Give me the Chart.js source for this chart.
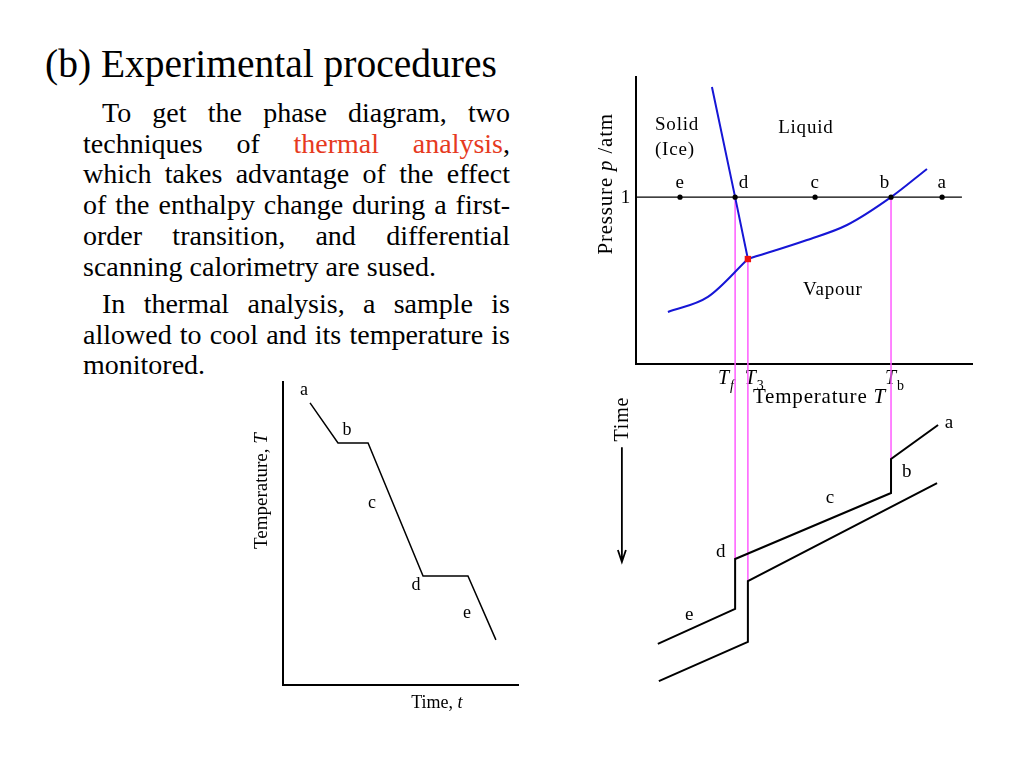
<!DOCTYPE html>
<html>
<head>
<meta charset="utf-8">
<script src="https://cdn.jsdelivr.net/npm/chart.js@4.4.0/dist/chart.umd.min.js"></script>
<style>
  body { margin: 0; width: 1024px; height: 768px; background: #fff; position: relative; overflow: hidden;
         font-family: "Liberation Serif", "Times New Roman", serif; color: #000; }
  h1 { position: absolute; left: 45px; top: 45px; margin: 0; font-weight: normal; font-size: 39.5px; line-height: 39px; white-space: nowrap; }
  .para { position: absolute; left: 83px; width: 427px; font-size: 28px; line-height: 30.7px; }
  .para div { white-space: nowrap; }
  .para .j { text-align: justify; text-align-last: justify; }
  .red { color: #e63a1e; }
  canvas { position: absolute; }
</style>
</head>
<body>

<h1>(b) Experimental procedures</h1>
<div class="para" style="top:98px">
  <div class="j" style="padding-left:19px">To get the phase diagram, two</div>
  <div class="j">techniques of <span class="red">thermal analysis</span>,</div>
  <div class="j">which takes advantage of the effect</div>
  <div class="j">of the enthalpy change during a first-</div>
  <div class="j">order transition, and differential</div>
  <div>scanning calorimetry are sused.</div>
</div>
<div class="para" style="top:289px">
  <div class="j" style="padding-left:19px">In thermal analysis, a sample is</div>
  <div class="j">allowed to cool and its temperature is</div>
  <div>monitored.</div>
</div>

<canvas id="coolChart" width="300" height="350" style="left:230px;top:370px"></canvas>
<canvas id="phaseChart" width="420" height="370" style="left:580px;top:60px"></canvas>
<canvas id="timeChart" width="420" height="340" style="left:580px;top:364px"></canvas>

<script>
// ---- left: cooling curve, temperature against time
const curveTime = [1.15, 2.34, 3.62, 5.96, 7.87, 9.06];
const curveTemp = [9.31, 7.99, 7.99, 3.60, 3.60, 1.49];
const stageNames = ['a', 'b', 'c', 'd', 'e'];
const stageTime = [0.89, 2.72, 3.79, 5.66, 7.83];
const stageTemp = [9.57, 8.25, 5.84, 3.14, 2.21];

// ---- right top: phase diagram (temperature 0-100, pressure in atm)
const fusionT = [22.6, 29.5, 33.3];
const fusionP = [1.66, 1.0, 0.629];
const sublimT = [9.5, 21.4, 33.3];
const sublimP = [0.312, 0.402, 0.629];
const vapT = [33.3, 50.9, 62.8, 75.9, 86.6];
const vapP = [0.629, 0.743, 0.833, 1.0, 1.169];
const isobarT = [0, 97];
const isobarP = [1, 1];
const sampleNames = ['e', 'd', 'c', 'b', 'a'];
const sampleT = [13.1, 29.5, 53.3, 75.9, 91.1];
const sampleLabelT = [13.1, 32.1, 53.3, 74.1, 91.1];
const phaseNames = ['Solid', '(Ice)', 'Liquid', 'Vapour'];
const phaseLabelT = [5.65, 5.65, 42.3, 49.7];
const phaseLabelP = [1.402, 1.253, 1.384, 0.414];
const tripleT = 33.3, tripleP = 0.629;
const Tf = 29.5, T3 = 33.3, Tb = 75.9;
const markT = [Tf, T3, Tb];
const markP = [1.0, tripleP, 1.0];
const tickLabelT = [24.4, 32.4, 74.1];

// ---- right bottom: cooling traces, time runs downward
const upperT = [89.9, 75.9, 75.9, 29.5, 29.5, 6.5];
const upperTime = [1.85, 2.88, 3.91, 5.91, 7.42, 8.48];
const lowerT = [89.6, 33.3, 33.3, 6.8];
const lowerTime = [3.61, 6.58, 8.42, 9.61];
const markTime = [5.91, 6.58, 2.88];
const coolNames = ['a', 'b', 'c', 'd', 'e'];
const coolLabelT = [91.9, 79.2, 56.5, 23.8, 14.6];
const coolLabelTime = [1.94, 3.42, 4.21, 5.85, 7.76];

const BLUE = '#1616d6', PINK = '#ff5cff', SERIF = '"Liberation Serif", serif';
Chart.defaults.font.family = SERIF;

const pts = (xs, ys) => xs.map((x, i) => ({ x: x, y: ys[i] }));
const line = (data, color, width) => ({
  type: 'line', data: data, borderColor: color, borderWidth: width,
  pointRadius: 0, fill: false, clip: false
});

// draws text made of parts: [text, 'i' | 'sub' | 'isub' | '']
function richText(ctx, parts, x, y, size, align) {
  const fontOf = s => (s.includes('i') ? 'italic ' : '') + (s.includes('sub') ? size * 0.7 : size) + 'px ' + SERIF;
  let total = 0;
  parts.forEach(p => { ctx.font = fontOf(p[1]); total += ctx.measureText(p[0]).width; });
  let cx = align === 'center' ? x - total / 2 : align === 'right' ? x - total : x;
  ctx.textAlign = 'left';
  ctx.textBaseline = 'alphabetic';
  parts.forEach(p => {
    ctx.font = fontOf(p[1]);
    ctx.fillText(p[0], cx, y + (p[1].includes('sub') ? size * 0.28 : 0));
    cx += ctx.measureText(p[0]).width;
  });
}

function axisOpts(min, max, opts) {
  return Object.assign({
    type: 'linear', min: min, max: max,
    grid: { display: false }, ticks: { display: false },
    border: { display: true, color: '#000', width: 2 }
  }, opts);
}

const baseOptions = {
  responsive: false, animation: false, devicePixelRatio: 1,
  plugins: { legend: { display: false }, tooltip: { enabled: false } }
};

// left chart
new Chart(document.getElementById('coolChart'), {
  type: 'line',
  data: { datasets: [line(pts(curveTime, curveTemp), '#000', 1.5)] },
  options: Object.assign({}, baseOptions, {
    layout: { padding: { top: 12, right: 12, bottom: 10, left: 0 } },
    scales: {
      x: axisOpts(0, 10, { afterFit: s => { s.height = 25; } }),
      y: axisOpts(0, 10, { afterFit: s => { s.width = 53; } })
    }
  }),
  plugins: [{
    id: 'coolText',
    afterDraw(chart) {
      const ctx = chart.ctx, sx = chart.scales.x, sy = chart.scales.y, a = chart.chartArea;
      ctx.save();
      ctx.fillStyle = '#000';
      stageNames.forEach((n, i) => {
        richText(ctx, [[n, '']], sx.getPixelForValue(stageTime[i]), sy.getPixelForValue(stageTemp[i]), 18, 'center');
      });
      richText(ctx, [['Time, ', ''], ['t', 'i']], sx.getPixelForValue(6.55), a.bottom + 23, 18, 'center');
      ctx.translate(a.left - 16, sy.getPixelForValue(6.4));
      ctx.rotate(-Math.PI / 2);
      richText(ctx, [['Temperature, ', ''], ['T', 'i']], 0, 0, 19, 'center');
      ctx.restore();
    }
  }]
});

// right top: phase diagram (first dataset is drawn on top)
new Chart(document.getElementById('phaseChart'), {
  type: 'line',
  data: {
    datasets: [
      { type: 'scatter', data: [{ x: tripleT, y: tripleP }], pointStyle: 'rect', pointRadius: 4.5,
        pointBackgroundColor: '#ee1111', pointBorderWidth: 0, clip: false },
      { type: 'scatter', data: pts(sampleT, sampleT.map(() => 1)), pointRadius: 2.6,
        pointBackgroundColor: '#000', pointBorderWidth: 0, clip: false },
      line(pts(fusionT, fusionP), BLUE, 2),
      Object.assign(line(pts(sublimT, sublimP), BLUE, 2), { cubicInterpolationMode: 'monotone' }),
      Object.assign(line(pts(vapT, vapP), BLUE, 2), { cubicInterpolationMode: 'monotone' }),
      ...markT.map((t, i) => line(pts([t, t], [markP[i], 0]), PINK, 1.5)),
      line(pts(isobarT, isobarP), '#000', 1.2)
    ]
  },
  options: Object.assign({}, baseOptions, {
    layout: { padding: { top: 17, right: 28, bottom: 10, left: 0 } },
    scales: {
      x: axisOpts(0, 100, { afterFit: s => { s.height = 56; } }),
      y: axisOpts(0, 1.72, { afterFit: s => { s.width = 56; } })
    }
  }),
  plugins: [{
    id: 'phaseText',
    afterDraw(chart) {
      const ctx = chart.ctx, sx = chart.scales.x, sy = chart.scales.y, a = chart.chartArea;
      ctx.save();
      ctx.fillStyle = '#000';
      ctx.letterSpacing = '0.8px';
      phaseNames.forEach((n, i) => {
        richText(ctx, [[n, '']], sx.getPixelForValue(phaseLabelT[i]), sy.getPixelForValue(phaseLabelP[i]), 19, 'left');
      });
      sampleNames.forEach((n, i) => {
        richText(ctx, [[n, '']], sx.getPixelForValue(sampleLabelT[i]), sy.getPixelForValue(1.055), 19, 'center');
      });
      richText(ctx, [['1', '']], a.left - 5, sy.getPixelForValue(1) + 6, 19, 'right');
      const subs = [['f', 'isub'], ['3', 'sub'], ['b', 'sub']];
      tickLabelT.forEach((t, i) => {
        richText(ctx, [['T', 'i'], subs[i]], sx.getPixelForValue(t), a.bottom + 20, 20, 'left');
      });
      richText(ctx, [['Temperature ', ''], ['T', 'i']], sx.getPixelForValue(34.8), a.bottom + 39, 21, 'left');
      ctx.translate(a.left - 24, sy.getPixelForValue(1.08));
      ctx.rotate(-Math.PI / 2);
      richText(ctx, [['Pressure ', ''], ['p', 'i'], [' /atm', '']], 0, 0, 21, 'center');
      ctx.restore();
    }
  }]
});

// right bottom: cooling traces against the same temperature axis
new Chart(document.getElementById('timeChart'), {
  type: 'line',
  data: {
    datasets: [
      line(pts(upperT, upperTime), '#000', 2),
      line(pts(lowerT, lowerTime), '#000', 2),
      ...markT.map((t, i) => line(pts([t, t], [0, markTime[i]]), PINK, 1.5))
    ]
  },
  options: Object.assign({}, baseOptions, {
    layout: { padding: { top: 0, right: 28, bottom: 10, left: 56 } },
    scales: {
      x: axisOpts(0, 100, { display: false }),
      y: axisOpts(0, 10, { display: false, reverse: true })
    }
  }),
  plugins: [{
    id: 'timeText',
    afterDraw(chart) {
      const ctx = chart.ctx, sx = chart.scales.x, sy = chart.scales.y;
      ctx.save();
      ctx.fillStyle = '#000';
      ctx.strokeStyle = '#000';
      ctx.letterSpacing = '0.8px';
      coolNames.forEach((n, i) => {
        richText(ctx, [[n, '']], sx.getPixelForValue(coolLabelT[i]), sy.getPixelForValue(coolLabelTime[i]), 19, 'left');
      });
      // time arrow
      const ax = sx.getPixelForValue(-4.2), y0 = sy.getPixelForValue(2.52), y1 = sy.getPixelForValue(6.0);
      ctx.lineWidth = 1.8;
      ctx.beginPath();
      ctx.moveTo(ax, y0); ctx.lineTo(ax, y1);
      ctx.moveTo(ax - 4, y1 - 12); ctx.lineTo(ax, y1); ctx.lineTo(ax + 4, y1 - 12);
      ctx.stroke();
      ctx.translate(sx.getPixelForValue(-2.4), sy.getPixelForValue(1.67));
      ctx.rotate(-Math.PI / 2);
      richText(ctx, [['Time', '']], 0, 0, 20, 'center');
      ctx.restore();
    }
  }]
});
</script>
</body>
</html>
